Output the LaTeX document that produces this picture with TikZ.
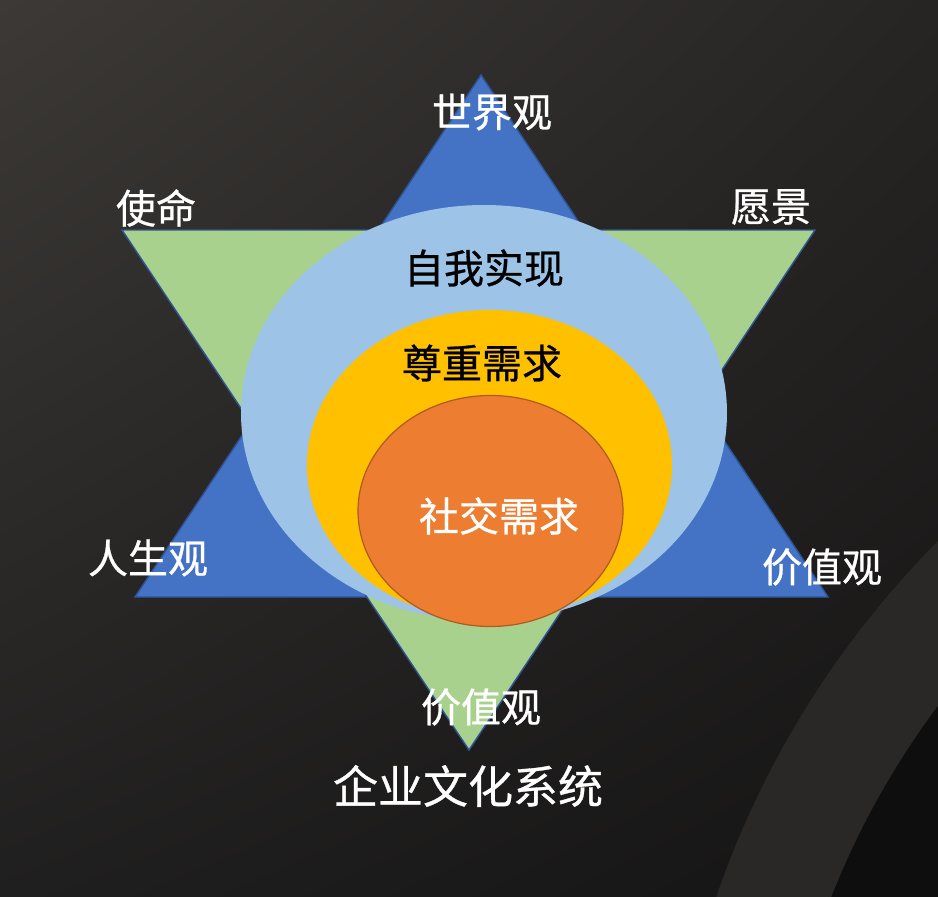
\documentclass[tikz,border=0pt]{standalone}
\usepackage{fontspec}
\newfontfamily\cjk[FakeBold=0.7]{Noto Sans CJK SC}
\usetikzlibrary{shapes.geometric,shadings}
\definecolor{bgUL}{HTML}{3C3936}
\definecolor{bgUR}{HTML}{272524}
\definecolor{bgLL}{HTML}{201F1F}
\definecolor{bgLR}{HTML}{151414}
\definecolor{ringc}{HTML}{292827}
\definecolor{ringin}{HTML}{0F0E0E}
\definecolor{triblue}{HTML}{4472C4}
\definecolor{trigreen}{HTML}{A9D18E}
\definecolor{triedge}{HTML}{2F5597}
\definecolor{lblue}{HTML}{9DC3E6}
\definecolor{gold}{HTML}{FFC000}
\definecolor{orng}{HTML}{ED7D31}
\definecolor{orngedge}{HTML}{AE5A21}
\begin{document}
\begin{tikzpicture}[x=1pt,y=-1pt,
  lbl/.style={font=\cjk\fontsize{40}{42}\selectfont, text=white, inner sep=0pt},
  darklbl/.style={lbl, text=black},
  titlelbl/.style={lbl, font=\cjk\fontsize{45}{47}\selectfont},
  tri/.style={draw=triedge, line width=1.4pt, line join=miter},
  layer/.style={ellipse, inner sep=0pt, outer sep=0pt}]
\useasboundingbox (0,0) rectangle (938,897);
% background
\shade[upper left=bgUL, upper right=bgUR, lower left=bgLL, lower right=bgLR] (0,0) rectangle (938,897);
\begin{scope}
  \clip (0,0) rectangle (938,897);
  \fill[ringc] (1600,1200) circle [radius=934pt];
  \fill[ringin] (1600,1200) circle [radius=826pt];
\end{scope}
% star
\coordinate (bA) at (481,75);
\coordinate (bL) at (135,597);
\coordinate (bR) at (828,597);
\coordinate (gL) at (122,230);
\coordinate (gR) at (815,230);
\coordinate (gB) at (469,750);
\filldraw[tri, fill=triblue] (bA) -- (bL) -- (bR) -- cycle;
\filldraw[tri, fill=trigreen] (gL) -- (gR) -- (gB) -- cycle;
% nested ellipses
\node[layer, fill=lblue, minimum width=486pt, minimum height=416pt] (self) at (484,413) {};
\node[layer, fill=gold, minimum width=365pt, minimum height=310pt] (esteem) at (489.5,465) {};
\node[layer, fill=orng, draw=orngedge, line width=1.2pt, minimum width=265pt, minimum height=231pt] (social) at (490.5,511) {};
% labels
\node[lbl] (world) at (492,112) {世界观};
\node[lbl] (mission) at (156,208) {使命};
\node[lbl] (vision) at (771,207) {愿景};
\node[darklbl] (t1) at (484,268) {自我实现};
\node[darklbl] (t2) at (482,363) {尊重需求};
\node[lbl] (t3) at (499,516) {社交需求};
\node[lbl] (life) at (148,558) {人生观};
\node[lbl] (value1) at (822,567) {价值观};
\node[lbl] (value2) at (481,707) {价值观};
\node[titlelbl] (title) at (468,786) {企业文化系统};
\end{tikzpicture}
\end{document}
